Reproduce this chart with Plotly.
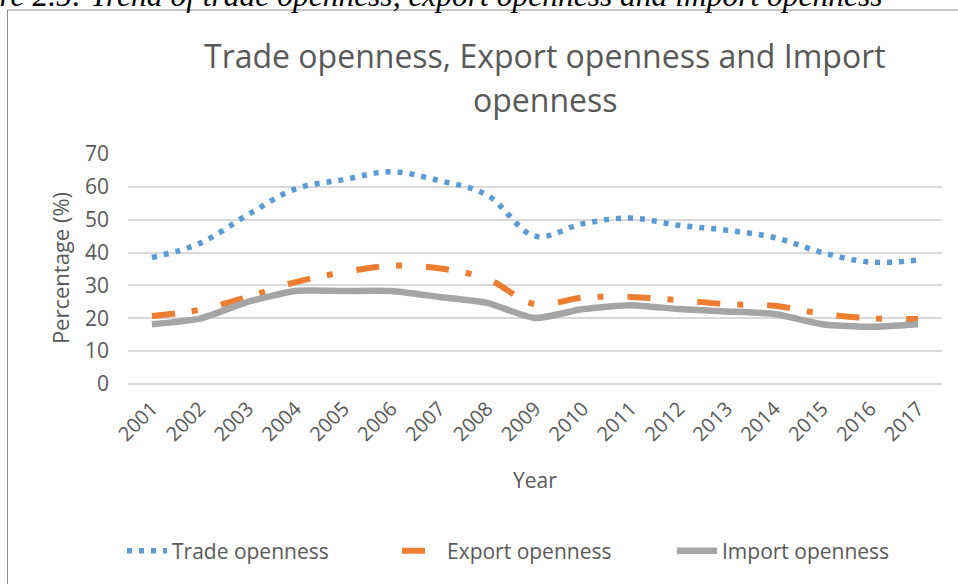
import plotly.graph_objects as go

# Openness indicators, % of GDP, 2001-2017
years = [str(y) for y in range(2001, 2018)]
trade_openness = [38.5, 42.8, 51.5, 59.4, 62.2, 64.6, 61.9, 57.5, 45.0, 48.8,
                  50.5, 48.3, 46.8, 44.6, 40.0, 37.1, 37.7]
export_openness = [20.7, 22.6, 26.5, 31.0, 34.0, 36.0, 35.2, 32.0, 24.3, 26.3,
                   26.5, 25.5, 24.3, 23.8, 21.4, 20.0, 19.8]
import_openness = [18.2, 19.9, 25.0, 28.3, 28.3, 28.3, 26.5, 24.7, 20.1, 22.8,
                   24.0, 22.8, 22.1, 21.3, 18.2, 17.4, 18.2]

y_ticks = [0, 10, 20, 30, 40, 50, 60, 70]

TEXT = "#595959"
FONT = "Open Sans"

fig = go.Figure()
fig.add_trace(go.Scatter(
    x=years, y=trade_openness, name="Trade openness", mode="lines",
    line=dict(color="#5B9BD5", width=5.5, dash="5px,7px", shape="spline", smoothing=1.0),
))
fig.add_trace(go.Scatter(
    x=years, y=export_openness, name="Export openness", mode="lines",
    line=dict(color="#ED7D31", width=6, dash="23px,17px,6px,24px", shape="spline", smoothing=1.0),
))
fig.add_trace(go.Scatter(
    x=years, y=import_openness, name="Import openness", mode="lines",
    line=dict(color="#A5A5A5", width=6.5, shape="spline", smoothing=0.6),
))

fig.update_layout(
    width=958, height=584,
    margin=dict(l=128, r=16, t=154, b=200, autoexpand=False),
    paper_bgcolor="white", plot_bgcolor="white",
    font=dict(family=FONT, color=TEXT),
    showlegend=True,
    legend=dict(
        orientation="h", x=-0.0074, xanchor="left", y=-0.726, yanchor="middle",
        font=dict(size=21, color=TEXT, family=FONT), itemwidth=40,
        entrywidth=220, entrywidthmode="pixels",
        bgcolor="rgba(0,0,0,0)",
    ),
    xaxis=dict(
        type="category", range=[-0.5, len(years) - 0.5], tickangle=-45,
        showgrid=False, showline=False, ticks="",
        tickfont=dict(size=20, color=TEXT, family=FONT), ticklabelstandoff=8,
    ),
    yaxis=dict(
        range=[0, 70], tickvals=y_ticks, showline=False, ticks="",
        gridcolor="#D9D9D9", gridwidth=1.5, zeroline=True,
        zerolinecolor="#D9D9D9", zerolinewidth=1.5,
        tickfont=dict(size=21, color=TEXT, family=FONT), ticklabelstandoff=18,
    ),
)

annotations = [
    dict(text="Trade openness, Export openness and Import", x=0.5123, y=1.43,
         font=dict(size=32, color=TEXT, family=FONT)),
    dict(text="openness", x=0.5123, y=1.235,
         font=dict(size=32, color=TEXT, family=FONT)),
    dict(text="Year", x=0.5, y=-0.417, font=dict(size=21, color=TEXT, family=FONT)),
    dict(text="Percentage (%)", x=-0.0835, y=0.504, textangle=-90,
         font=dict(size=22, color=TEXT, family=FONT)),
    dict(text="<i>Figure 2.5: Trend of trade openness, export openness and import openness</i>",
         x=0.93, y=1.6044, xanchor="right", yanchor="bottom",
         font=dict(size=31.5, color="black", family="Liberation Serif"),
         ),
]
for a in annotations:
    a.setdefault("xanchor", "center")
    a.setdefault("yanchor", "middle")
    fig.add_annotation(xref="paper", yref="paper", showarrow=False, **a)

# Chart frame
fig.add_shape(type="rect", xref="paper", yref="paper",
              x0=-0.1480, x1=1.045, y0=-0.95, y1=1.626,
              line=dict(color="#8C8C8C", width=1), fillcolor="rgba(0,0,0,0)", layer="below")

fig.write_html("out.html")
